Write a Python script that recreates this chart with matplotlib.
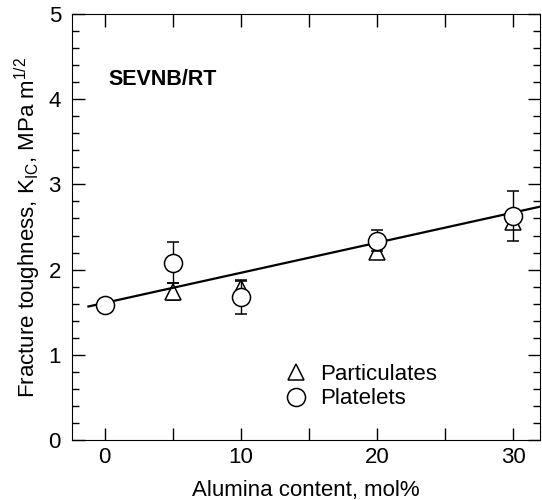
import numpy as np
import matplotlib.pyplot as plt
from matplotlib.ticker import MultipleLocator, FixedLocator

plt.rcParams['font.family'] = ['Liberation Sans', 'DejaVu Sans']
plt.rcParams['mathtext.fontset'] = 'custom'
plt.rcParams['mathtext.rm'] = 'Liberation Sans'
plt.rcParams['mathtext.it'] = 'Liberation Sans'

# Plaquetas (circulos)
plate_x = [0, 5, 10, 20, 30]
plate_y = [1.59, 2.08, 1.68, 2.34, 2.63]
plate_err = [0.03, 0.24, 0.20, 0.12, 0.29]

# Particulas (triangulos)
part_x = [5, 10, 20, 30]
part_y = [1.74, 1.78, 2.21, 2.56]
part_err = [0.10, 0.09, 0.08, 0.05]

# Reta de ajuste
fit_x = [-1.2, 33]
fit_y = [1.567, 2.775]

fig = plt.figure(figsize=(5.42, 5.0), dpi=100)
ax = fig.add_axes([0.133, 0.12, 0.864, 0.852])

ax.plot(fit_x, fit_y, color='black', lw=1.6, zorder=3)

ax.errorbar(part_x, part_y, yerr=part_err, fmt='^', ms=12, mfc='white',
            mec='black', mew=1.1, ecolor='black', elinewidth=1.0,
            capsize=4, capthick=1.0, zorder=2)
ax.errorbar(plate_x, plate_y, yerr=plate_err, fmt='o', ms=13, mfc='white',
            mec='black', mew=1.1, ecolor='black', elinewidth=1.0,
            capsize=4, capthick=1.0, zorder=4)

# Legenda
h1, = ax.plot([], [], '^', ms=12, mfc='white', mec='black', mew=1.1)
h2, = ax.plot([], [], 'o', ms=13, mfc='white', mec='black', mew=1.1)
ax.legend([h1, h2], ['Particulates', 'Platelets'], loc='upper left',
          bbox_to_anchor=(0.406, 0.225), frameon=False, fontsize=16,
          handletextpad=0.5, labelspacing=0.15, handlelength=1.2)

ax.text(0.077, 0.833, 'SEVNB/RT', transform=ax.transAxes, fontsize=15.5,
        fontweight='bold')

ax.set_xlim(-2.4, 32)
ax.set_ylim(0, 5)
ax.xaxis.set_major_locator(FixedLocator([0, 10, 20, 30]))
ax.xaxis.set_minor_locator(FixedLocator([5, 15, 25]))
ax.yaxis.set_major_locator(MultipleLocator(1))
ax.yaxis.set_minor_locator(MultipleLocator(0.2))
ax.tick_params(which='both', direction='in', top=True, right=True,
               labelsize=16, width=1.0)
ax.tick_params(axis='x', which='both', length=9, pad=5)
ax.tick_params(axis='y', which='major', length=9, pad=8)
ax.tick_params(axis='y', which='minor', length=5)

ax.set_xlabel('Alumina content, mol%', fontsize=16, labelpad=9)
ax.set_ylabel('Fracture toughness, K$_{\\rm IC}$, MPa m$^{1/2}$',
              fontsize=16, labelpad=4)

fig.savefig('out.png', dpi=100)
